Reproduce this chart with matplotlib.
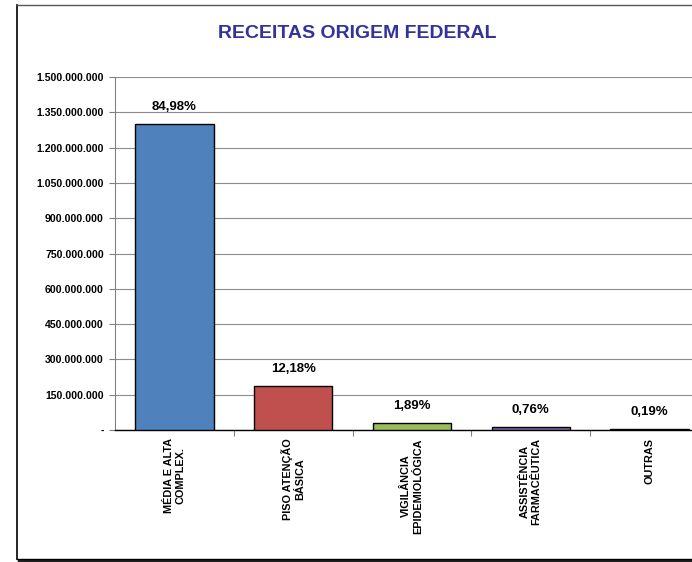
import matplotlib.pyplot as plt
from matplotlib.lines import Line2D
from matplotlib.ticker import FuncFormatter

categorias = ["MÉDIA E ALTA\nCOMPLEX.", "PISO ATENÇÃO\nBÁSICA", "VIGILÂNCIA\nEPIDEMIOLÓGICA",
              "ASSISTÊNCIA\nFARMACÊUTICA", "OUTRAS"]
valores = [1300000000, 186300000, 28900000, 11600000, 2900000]
percentuais = ["84,98%", "12,18%", "1,89%", "0,76%", "0,19%"]
cores = ["#4F81BD", "#C0504D", "#9BBB59", "#8064A2", "#4BACC6"]

plt.rcParams['font.family'] = ['Liberation Sans', 'DejaVu Sans']

fig = plt.figure(figsize=(6.92, 5.62), dpi=100)
ax = fig.add_axes([115/692, 1 - 430/562, 594/692, 353/562])

x = range(len(valores))
ax.bar(x, valores, width=0.66, color=cores, edgecolor="black", linewidth=1, zorder=3)

for i, v in enumerate(valores):
    ax.annotate(percentuais[i], (i, v), xytext=(0, 8), textcoords="offset points",
                ha="center", va="bottom", fontsize=9.5, fontweight="bold")

ax.set_xlim(-0.5, len(valores) - 0.5)
ax.set_ylim(0, 1500000000)
ax.set_yticks(range(0, 1500000001, 150000000))

def fmt(v, pos):
    if v == 0:
        return "-"
    return "{:,.0f}".format(v).replace(",", ".")

ax.yaxis.set_major_formatter(FuncFormatter(fmt))
ax.grid(axis="y", color="#8c8c8c", linewidth=0.8, zorder=0)

ax.set_xticks([i + 0.5 for i in range(len(valores) - 1)])
ax.set_xticklabels([])
ax.set_xticks(list(x), minor=True)
ax.set_xticklabels(categorias, minor=True, rotation=90, fontsize=7.8, fontweight="bold",
                   va="top", ha="center", linespacing=1.2)
ax.tick_params(axis="x", which="minor", length=0, pad=6)
ax.tick_params(axis="x", which="major", length=4, width=0.8, color="#808080")
ax.tick_params(axis="y", length=4, width=0.8, color="#808080", labelsize=7.6, pad=4)
for lab in ax.get_yticklabels():
    lab.set_fontweight("bold")

ax.spines["top"].set_visible(False)
ax.spines["right"].set_visible(False)
ax.spines["left"].set_color("#808080")
ax.spines["bottom"].set_color("black")
ax.spines["bottom"].set_linewidth(1)

fig.text(357/692, 1 - 34/562, "RECEITAS ORIGEM FEDERAL", ha="center", va="center",
         fontsize=14, fontweight="bold", color="#333399")

# moldura do grafico
fig.add_artist(Line2D([17/692, 17/692], [1 - 559/562, 1 - 5/562], color="black", linewidth=1.2))
fig.add_artist(Line2D([17/692, 1], [1 - 5/562, 1 - 5/562], color="#555555", linewidth=1))
fig.add_artist(Line2D([19/692, 1], [1 - 560.5/562, 1 - 560.5/562], color="#222222", linewidth=2.5))
fig.add_artist(Line2D([17/692, 1], [1 - 559/562, 1 - 559/562], color="black", linewidth=1))

fig.savefig("out.png", dpi=100)
